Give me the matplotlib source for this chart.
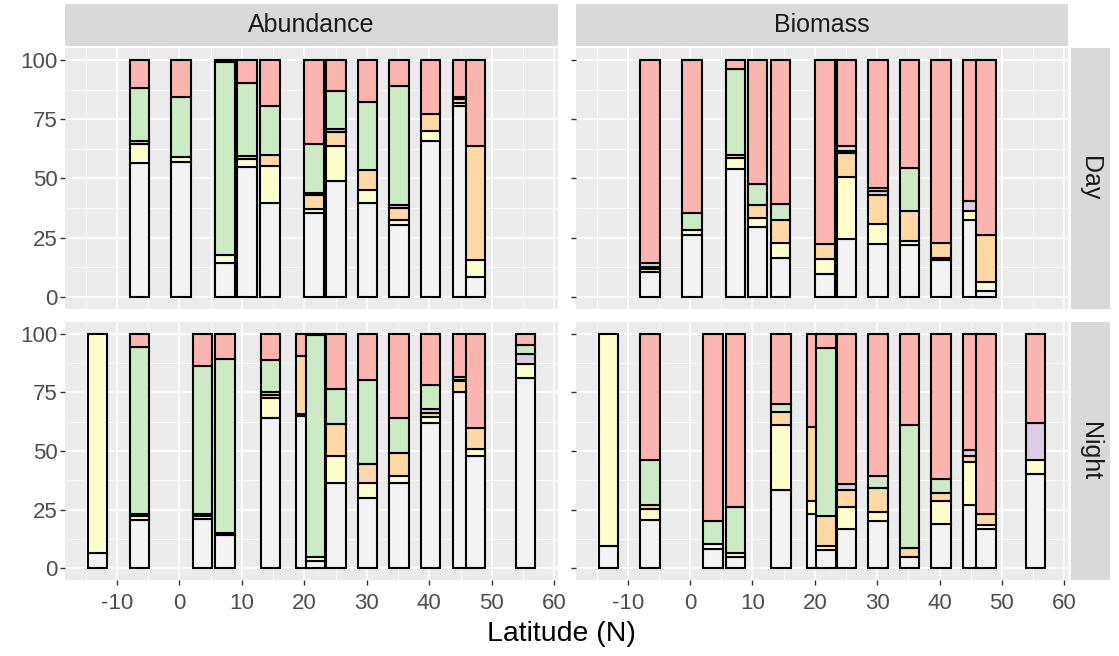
import numpy as np
import matplotlib.pyplot as plt
from matplotlib.ticker import MultipleLocator

plt.rcParams['font.family'] = ['Liberation Sans', 'DejaVu Sans']

# stacking order, bottom to top
categories = ['grey', 'yellow', 'orange', 'purple', 'green', 'red']
colors = ['#F2F2F2', '#FFFFCC', '#FED9A6', '#DECBE4', '#CCEBC5', '#FBB4AE']

day_lat = [-6.4, 0.3, 7.3, 10.8, 14.5, 21.6, 25.1, 30.1, 35.2, 40.2, 45.3, 47.4]
night_lat = [-13.1, -6.4, 3.7, 7.3, 14.6, 20.3, 21.8, 25.1, 30.1, 35.2, 40.2, 45.3, 47.4, 55.4]

# one row per bar: grey, yellow, orange, purple, green, red (%)
abund_day = [
    [56.7, 8.0, 0, 0.9, 22.6, 11.8],
    [56.8, 2.4, 0, 0, 25.1, 15.7],
    [14.3, 3.4, 0, 0, 81.2, 1.1],
    [54.7, 3.5, 1.4, 0, 30.5, 9.9],
    [39.7, 15.5, 4.7, 0, 20.6, 19.5],
    [35.4, 1.9, 5.8, 0.8, 20.8, 35.3],
    [48.9, 15.0, 5.9, 1.2, 15.8, 13.2],
    [39.7, 5.3, 8.5, 0, 28.7, 17.8],
    [30.2, 2.4, 5.1, 1.0, 50.3, 11.0],
    [65.6, 4.5, 7.1, 0, 0, 22.8],
    [80.5, 1.4, 1.4, 0, 1.0, 15.7],
    [8.6, 7.1, 48.2, 0, 0, 36.1],
]
abund_night = [
    [6.4, 93.6, 0, 0, 0, 0],
    [20.7, 1.4, 0, 1.2, 71.0, 5.7],
    [21.1, 1.0, 1.2, 0, 63.1, 13.6],
    [14.3, 0, 0, 0.8, 74.0, 10.9],
    [63.9, 8.5, 1.5, 1.1, 14.0, 11.0],
    [65.0, 0.7, 25.0, 0, 0, 9.3],
    [3.3, 1.7, 0, 0, 94.3, 0.7],
    [36.4, 11.5, 13.5, 0, 15.0, 23.6],
    [30.0, 6.4, 8.2, 0, 35.7, 19.7],
    [36.4, 2.9, 10.0, 0, 14.6, 36.1],
    [62.1, 2.6, 1.7, 1.4, 10.3, 21.9],
    [75.3, 0, 4.6, 0.4, 1.1, 18.6],
    [47.9, 3.1, 9.0, 0, 0, 40.0],
    [81.0, 6.1, 0, 4.3, 3.6, 5.0],
]
bio_day = [
    [10.8, 1.1, 1.0, 0, 1.4, 85.7],
    [26.2, 2.3, 0, 0, 7.1, 64.4],
    [54.2, 4.6, 1.1, 0, 36.1, 4.0],
    [29.5, 3.8, 5.4, 0, 8.8, 52.5],
    [16.4, 6.4, 9.5, 0, 7.1, 60.6],
    [9.6, 6.4, 6.4, 0, 0, 77.6],
    [24.5, 26.2, 9.9, 1.2, 1.7, 36.5],
    [22.4, 8.5, 12.3, 1.4, 1.2, 54.2],
    [22.0, 1.8, 12.3, 0, 18.4, 45.5],
    [15.7, 1.0, 6.1, 0, 0, 77.2],
    [32.3, 3.8, 0, 4.3, 0, 59.6],
    [2.5, 3.9, 19.8, 0, 0, 73.8],
]
bio_night = [
    [9.6, 90.4, 0, 0, 0, 0],
    [20.7, 4.6, 1.8, 0, 19.0, 53.9],
    [8.1, 2.3, 0, 0, 9.6, 80.0],
    [4.7, 1.7, 0, 0, 19.7, 73.9],
    [33.3, 27.7, 5.7, 0, 3.3, 30.0],
    [23.3, 5.3, 31.8, 0, 0, 39.6],
    [7.9, 1.4, 12.8, 0, 71.8, 6.1],
    [16.7, 9.4, 7.2, 2.7, 0, 64.0],
    [20.0, 3.9, 10.4, 0, 5.0, 60.7],
    [4.7, 0, 3.9, 0, 52.5, 38.9],
    [19.0, 9.6, 3.3, 0, 6.2, 61.9],
    [27.1, 18.2, 2.6, 2.4, 0, 49.7],
    [16.7, 1.9, 4.7, 0, 0, 76.7],
    [40.0, 6.1, 0, 15.8, 0, 38.1],
]

col_titles = ['Abundance', 'Biomass']
row_titles = ['Day', 'Night']
x_ticks = [-10, 0, 10, 20, 30, 40, 50, 60]
y_ticks = [0, 25, 50, 75, 100]

W, H = 1119, 656
fig = plt.figure(figsize=(W / 100, H / 100), dpi=100)

def box(x0, y0, x1, y1):
    return [x0 / W, 1 - y1 / H, (x1 - x0) / W, (y1 - y0) / H]

col_px = [(65, 558), (576, 1068)]
row_px = [(48, 309), (322, 580)]

panels = {
    (0, 0): (day_lat, abund_day), (0, 1): (day_lat, bio_day),
    (1, 0): (night_lat, abund_night), (1, 1): (night_lat, bio_night),
}

for (r, c), (lats, rows) in panels.items():
    ax = fig.add_axes(box(col_px[c][0], row_px[r][0], col_px[c][1], row_px[r][1]))
    ax.set_facecolor('#EBEBEB')
    for s in ax.spines.values():
        s.set_visible(False)
    ax.set_xlim(-18.3, 60.6)
    ax.set_ylim(-5, 105)
    ax.set_xticks(x_ticks)
    ax.set_yticks(y_ticks)
    ax.xaxis.set_minor_locator(MultipleLocator(5))
    ax.yaxis.set_minor_locator(MultipleLocator(12.5))
    ax.grid(which='major', color='white', lw=1.1)
    ax.grid(which='minor', color='white', lw=0.55)
    ax.set_axisbelow(True)
    ax.tick_params(which='minor', length=0)
    ax.tick_params(which='major', length=3.5, color='#333333', width=1,
                   labelsize=16, labelcolor='#4D4D4D', pad=2)
    ax.tick_params(axis='x', pad=6)
    if c == 1:
        ax.tick_params(labelleft=False)
    if r == 0:
        ax.tick_params(bottom=False, labelbottom=False)
    else:
        ax.set_xticklabels([str(t) for t in x_ticks])

    for i, (lat, vals) in enumerate(zip(lats, rows)):
        bottom = 0
        for v, col in zip(vals, colors):
            if v > 0:
                ax.bar(lat, v, width=3.15, bottom=bottom, color=col,
                       edgecolor='black', linewidth=1.5, zorder=2 + i * 0.01)
            bottom += v

    if r == 0:
        sax = fig.add_axes(box(col_px[c][0], 4, col_px[c][1], 46))
        sax.set_facecolor('#D9D9D9')
        sax.set_xticks([]); sax.set_yticks([])
        for s in sax.spines.values():
            s.set_visible(False)
        sax.text(0.5, 0.5, col_titles[c], ha='center', va='center',
                 fontsize=18, color='#1A1A1A', transform=sax.transAxes)
    if c == 1:
        sax = fig.add_axes(box(1071, row_px[r][0], 1110, row_px[r][1]))
        sax.set_facecolor('#D9D9D9')
        sax.set_xticks([]); sax.set_yticks([])
        for s in sax.spines.values():
            s.set_visible(False)
        sax.text(0.5, 0.5, row_titles[r], ha='center', va='center', rotation=-90,
                 fontsize=18, color='#1A1A1A', transform=sax.transAxes)

fig.text(561 / W, 1 - 634 / H, 'Latitude (N)', ha='center', va='center',
         fontsize=20.5, color='black')

fig.savefig('out.png', dpi=100)
